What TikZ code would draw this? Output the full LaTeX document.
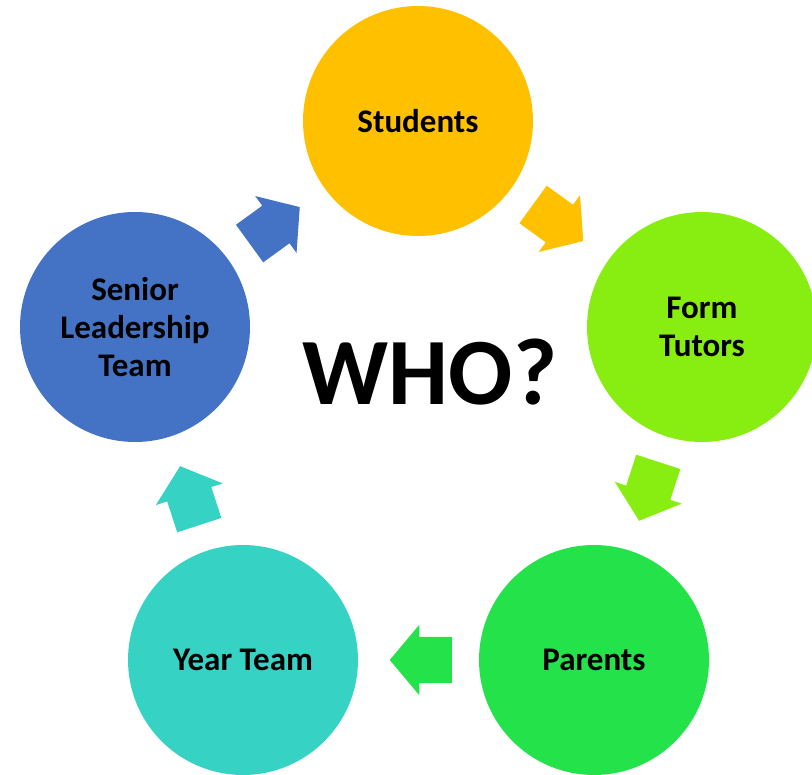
\documentclass[tikz,border=0pt]{standalone}
\usepackage{fontspec}
\setmainfont{Carlito}
\usepackage{xcolor}
\usetikzlibrary{shapes.arrows,calc}

\definecolor{stuYellow}{HTML}{FFC000}
\definecolor{formGreen}{HTML}{88EE11}
\definecolor{parGreen}{HTML}{24E24A}
\definecolor{yearTeal}{HTML}{36D3C5}
\definecolor{sltBlue}{HTML}{4472C4}

\tikzset{
  member/.style={circle, minimum size=230pt, inner sep=0pt, align=center,
    font=\fontsize{33}{38}\selectfont\bfseries},
  cyclearrow/.style={single arrow, minimum height=62pt, inner xsep=0pt,
    inner ysep=23pt, single arrow head extend=12pt, single arrow tip angle=100}
}

\begin{document}
\begin{tikzpicture}[x=1pt, y=-1pt]
\useasboundingbox (0,0) rectangle (812,775);

% the five groups round the cycle
\node[member, fill=stuYellow] (stu) at (418,121) {Students};
\node[member, fill=formGreen] (form) at (702,327) {Form\\Tutors};
\node[member, fill=parGreen] (par) at (594,660) {Parents};
\node[member, fill=yearTeal] (year) at (243,660) {Year Team};
\node[member, fill=sltBlue] (slt) at (135,327) {Senior\\Leadership\\Team};

% centre question
\node[font=\fontsize{95}{95}\selectfont\bfseries] (who) at (430,372) {WHO?};

% block arrows between the circles
\node[cyclearrow, fill=stuYellow, rotate=-36] (a1) at ($(stu)!0.5!(form)!12pt!(stu)$) {};
\node[cyclearrow, fill=formGreen, rotate=-108] (a2) at ($(form)!0.5!(par)!12pt!(form)$) {};
\node[cyclearrow, fill=parGreen, rotate=180] (a3) at ($(par)!0.5!(year)!12pt!(par)$) {};
\node[cyclearrow, fill=yearTeal, rotate=108] (a4) at ($(year)!0.5!(slt)!12pt!(year)$) {};
\node[cyclearrow, fill=sltBlue, rotate=36] (a5) at ($(slt)!0.5!(stu)!12pt!(slt)$) {};

\end{tikzpicture}
\end{document}
